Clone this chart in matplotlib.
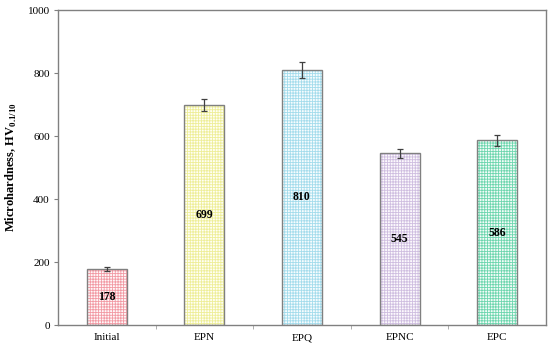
import matplotlib
matplotlib.use("Agg")
import matplotlib.pyplot as plt
import numpy as np

plt.rcParams["font.family"] = "Liberation Serif"
plt.rcParams["mathtext.fontset"] = "custom"
plt.rcParams["mathtext.rm"] = "Liberation Serif"
plt.rcParams["mathtext.bf"] = "Liberation Serif:bold"
plt.rcParams["hatch.linewidth"] = 0.6

# Dados
samples = ["Initial", "EPN", "EPQ", "EPNC", "EPC"]
hardness = [178, 699, 810, 545, 586]
errors = [5, 20, 25, 15, 17]
hatch_colors = ["#f29aa4", "#eeee98", "#a4dcec", "#cfbee0", "#6dd6ae"]
face_colors = ["#fff8f9", "#fffff4", "#f6fcfe", "#fcf9fd", "#f2fcf8"]

fig = plt.figure(figsize=(5.5, 3.5), dpi=100)
ax = fig.add_axes([0.1055, 0.0714, 0.887, 0.90])

x = np.arange(len(samples))
for i, (v, e) in enumerate(zip(hardness, errors)):
    ax.bar(x[i], v, width=0.41, color=face_colors[i], edgecolor=hatch_colors[i],
           hatch="+" * 6, linewidth=0, zorder=2)
    ax.bar(x[i], v, width=0.41, fill=False, edgecolor="#808080", linewidth=1.0, zorder=3)
    ax.errorbar(x[i], v, yerr=e, fmt="none", ecolor="#404040", elinewidth=0.9,
                capsize=2, capthick=0.9, zorder=4)
    ax.text(x[i], v / 2, str(v), ha="center", va="center", fontsize=8.5,
            fontweight="bold", zorder=5)

ax.set_xlim(-0.5, 4.5)
ax.set_ylim(0, 1000)
ax.set_yticks(range(0, 1001, 200))
ax.set_xticks(x)
ax.set_xticklabels(samples, fontsize=8)
ax.set_xticks(np.arange(0.5, 4.5, 1), minor=True)
ax.tick_params(axis="x", which="major", length=0, pad=6)
ax.tick_params(axis="x", which="minor", length=3, color="#a0a0a0", direction="out")
ax.tick_params(axis="y", labelsize=8, length=3, color="#808080", pad=3)

for sp in ax.spines.values():
    sp.set_color("#808080")
    sp.set_linewidth(1.0)

ax.set_ylabel(r"Microhardness, HV$_{\mathbf{0.1/10}}$", fontsize=9, fontweight="bold", labelpad=6)

fig.savefig("out.png", dpi=100)
